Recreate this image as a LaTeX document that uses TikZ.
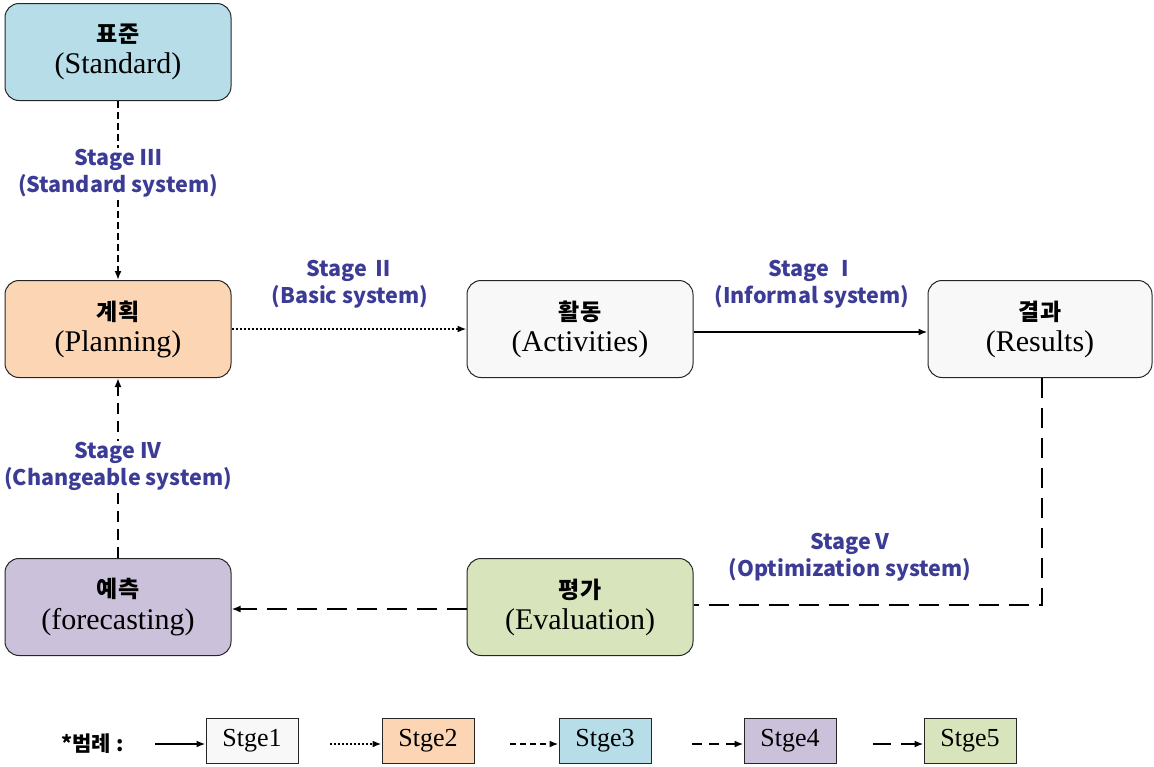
\documentclass[tikz,border=0pt]{standalone}
\usepackage{fontspec}
\setmainfont{Liberation Serif}
\newfontfamily\kr{Noto Sans CJK KR}
\usetikzlibrary{arrows.meta}
\definecolor{cstd}{HTML}{B6DDE8}
\definecolor{cplan}{HTML}{FCD5B4}
\definecolor{cwht}{HTML}{F8F8F8}
\definecolor{cfor}{HTML}{CCC1DA}
\definecolor{ceva}{HTML}{D8E4BC}
\definecolor{clab}{HTML}{3C3C96}
\tikzset{
  bigbox/.style={draw=black!85, line width=1pt, rounded corners=14pt,
    minimum width=226pt, minimum height=97pt, align=center, inner sep=0pt},
  lab/.style={text=clab, font=\kr\bfseries\fontsize{21.5}{27}\selectfont, align=center, inner sep=1pt},
  legbox/.style={draw=black!85, line width=1pt, minimum width=92pt, minimum height=45pt,
    font=\fontsize{26}{28}\selectfont, inner sep=0pt},
  tip/.style={-{Latex[length=9pt,width=7pt]}},
  conn/.style={line width=2pt, tip},
  s1/.style={conn},
  s2/.style={conn, dash pattern=on 2pt off 2pt},
  s3/.style={conn, dash pattern=on 7pt off 4pt},
  s4/.style={conn, dash pattern=on 11pt off 7pt},
  s5/.style={line width=2.2pt, dash pattern=on 20pt off 10pt},
}
\newcommand{\bt}[2]{{\kr\bfseries\fontsize{23}{30}\selectfont #1}\\[7pt]{\fontsize{30}{32}\selectfont #2}}
\begin{document}
\begin{tikzpicture}[x=1pt,y=-1pt]
\useasboundingbox (0,0) rectangle (1154,766);
% boxes
\node[bigbox, fill=cstd]  (std)  at (118,52)  {\bt{표준}{(Standard)}};
\node[bigbox, fill=cplan] (plan) at (118,329) {\bt{계획}{(Planning)}};
\node[bigbox, fill=cwht]  (act)  at (580,329) {\bt{활동}{(Activities)}};
\node[bigbox, fill=cwht, minimum width=224pt]  (res)  at (1040,329) {\bt{결과}{(Results)}};
\node[bigbox, fill=cfor]  (fore) at (118,607) {\bt{예측}{(forecasting)}};
\node[bigbox, fill=ceva]  (eva)  at (580,607) {\bt{평가}{(Evaluation)}};
% connectors
\draw[s3] (std.south) -- (plan.north);
\node[lab, fill=white] (l3) at (118,173) {Stage Ⅲ\\(Standard system)};
\draw[s2] (plan.east) -- (act.west);
\node[lab] (l2) at (350,284) {Stage  Ⅱ\\(Basic system)};
\draw[s1] ([yshift=-3pt]act.east) -- ([yshift=-3pt]res.west);
\node[lab] (l1) at (812,284) {Stage  Ⅰ\\(Informal system)};
\draw[s4] (fore.north) -- (plan.south);
\node[lab, fill=white] (l4) at (118,466) {Stage IV\\(Changeable system)};
\coordinate (corner) at ([xshift=2pt]res.south |- 0,605);
\draw[s5] ([xshift=2pt]res.south) -- (corner) -- (eva.east |- corner);
\draw[s5, tip] ([yshift=-2pt]eva.west) -- ([yshift=-2pt]fore.east);
\node[lab] (l5) at (850,557) {Stage V\\(Optimization system)};
% legend
\node[font=\kr\bfseries\fontsize{21}{24}\selectfont, anchor=west] (leg) at (58,744) {*범례 :};
\node[legbox, fill=cwht]  (g1) at (252,741) {Stge1};
\node[legbox, fill=cplan] (g2) at (428,741) {Stge2};
\node[legbox, fill=cstd]  (g3) at (605,741) {Stge3};
\node[legbox, fill=cfor]  (g4) at (790,741) {Stge4};
\node[legbox, fill=ceva]  (g5) at (970,741) {Stge5};
\coordinate (a1) at (155,744);
\coordinate (a2) at (330,744);
\coordinate (a3) at (510,744);
\coordinate (a4) at (692,744);
\coordinate (a5) at (873,744);
\draw[s1] (a1) -- (g1.west |- a1);
\draw[s2] (a2) -- (g2.west |- a2);
\draw[s3, dash pattern=on 6pt off 4pt] (a3) -- (g3.west |- a3);
\draw[s4, dash pattern=on 10pt off 7pt] (a4) -- (g4.west |- a4);
\draw[conn, dash pattern=on 18pt off 10pt] (a5) -- (g5.west |- a5);
\end{tikzpicture}
\end{document}
